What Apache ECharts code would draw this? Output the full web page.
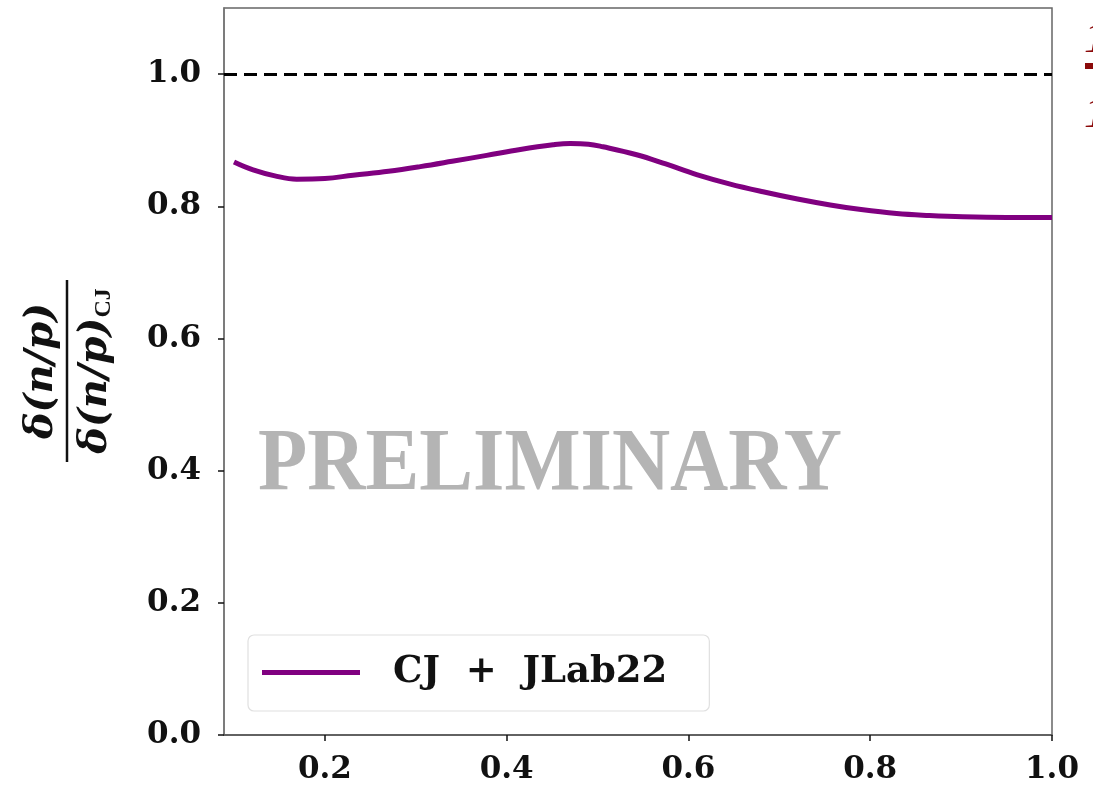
<!DOCTYPE html>
<html>
<head>
<meta charset="utf-8">
<script src="https://cdn.jsdelivr.net/npm/echarts@6/dist/echarts.min.js"></script>
<style>
html,body{margin:0;padding:0;background:#fff;}
#chart{width:1093px;height:790px;}
</style>
</head>
<body>
<div id="chart"></div>
<script>
const xValues = [0.1,0.121,0.145,0.169,0.2,0.231,0.27,0.305,0.34,0.378,0.415,0.451,0.47,0.49,0.506,0.543,0.575,0.609,0.645,0.682,0.72,0.756,0.79,0.829,0.865,0.902,0.95,1.0];
const yValues = [0.867,0.855,0.846,0.841,0.842,0.847,0.853,0.860,0.868,0.877,0.886,0.893,0.895,0.894,0.890,0.878,0.864,0.848,0.834,0.822,0.811,0.802,0.795,0.789,0.786,0.784,0.783,0.783];
const seriesName = 'CJ + JLab22';
const xTicks = [0.2,0.4,0.6,0.8,1.0];
const yTicks = [0.0,0.2,0.4,0.6,0.8,1.0];
const refLine = 1.0;

const chart = echarts.init(document.getElementById('chart'), null, {renderer:'canvas'});
const tickFont = {fontFamily:'DejaVu Serif', fontWeight:'bold', fontSize:31, color:'#111'};
const labelFont = 'DejaVu Serif';

chart.setOption({
  backgroundColor:'#fff',
  animation:false,
  grid:{left:224,right:41,top:8,bottom:55,show:true,borderColor:'#666',borderWidth:1.5,backgroundColor:'transparent'},
  xAxis:{type:'value',min:0.089,max:1.0,
    axisLine:{show:true,lineStyle:{color:'#555',width:1.5}},
    axisTick:{show:true,length:6,lineStyle:{color:'#111',width:1.5},customValues:xTicks},
    axisLabel:Object.assign({margin:19,customValues:xTicks,formatter:v=>v.toFixed(1)},tickFont),
    splitLine:{show:false}},
  yAxis:{type:'value',min:0,max:1.1,
    axisLine:{show:true,lineStyle:{color:'#777',width:1.5}},
    axisTick:{show:true,length:6,lineStyle:{color:'#111',width:1.5},customValues:yTicks},
    axisLabel:Object.assign({margin:23,customValues:yTicks,formatter:v=>v.toFixed(1)},tickFont),
    splitLine:{show:false}},
  legend:{show:true,left:248,top:635,orient:'horizontal',
    backgroundColor:'#fff',borderColor:'#e0e0e0',borderWidth:1.2,borderRadius:6,
    padding:[19,42,20,14],
    icon:'rect',itemWidth:98,itemHeight:5,
    formatter:n=>n.replace(' + ','  +  '),
    textStyle:{fontFamily:'DejaVu Serif',fontWeight:'bold',fontSize:37,color:'#111',padding:[0,0,0,28]},
    data:[seriesName]},
  graphic:[
    {type:'text',z:0,
      style:{text:'PRELIMINARY',fontFamily:'Liberation Serif',fontWeight:'bold',fontSize:88,fill:'#b4b4b4',align:'center',verticalAlign:'middle'},
      x:550,y:466,scaleX:0.916,scaleY:1.0,silent:true},
    {type:'group',x:67,y:371,rotation:Math.PI/2,children:[
      {type:'line',shape:{x1:-91,y1:0,x2:91,y2:0},style:{stroke:'#111',lineWidth:2.5}},
      {type:'text',x:0,y:-25,style:{text:'δ(n/p)',fontFamily:labelFont,fontWeight:'bold',fontStyle:'italic',fontSize:40,fill:'#111',align:'center',verticalAlign:'middle'}},
      {type:'text',x:0,y:29,style:{text:'{a|δ(n/p)}{s|CJ}',align:'center',verticalAlign:'middle',
        rich:{a:{fontFamily:labelFont,fontWeight:'bold',fontStyle:'italic',fontSize:40,fill:'#111'},
              s:{fontFamily:'Liberation Serif',fontWeight:'bold',fontSize:24,fill:'#111',padding:[16,0,0,0]}}}}
    ]},
    {type:'text',x:1084,y:18,style:{text:'1',fontFamily:'Liberation Serif',fontStyle:'italic',fontSize:44,fill:'#8b0a0a'}},
    {type:'rect',shape:{x:1085,y:63,width:10,height:6},style:{fill:'#8b0a0a'}},
    {type:'text',x:1084,y:93,style:{text:'1',fontFamily:'Liberation Serif',fontStyle:'italic',fontSize:44,fill:'#8b0a0a'}}
  ],
  series:[{
    name:seriesName,type:'line',smooth:0.4,symbol:'none',z:3,
    lineStyle:{color:'#800080',width:5},itemStyle:{color:'#800080'},
    data:xValues.map((x,i)=>[x,yValues[i]]),
    markLine:{silent:true,symbol:['none','none'],label:{show:false},
      lineStyle:{color:'#000',type:[13,7],width:3},
      data:[{yAxis:refLine}]}
  }]
});
</script>
</body>
</html>
